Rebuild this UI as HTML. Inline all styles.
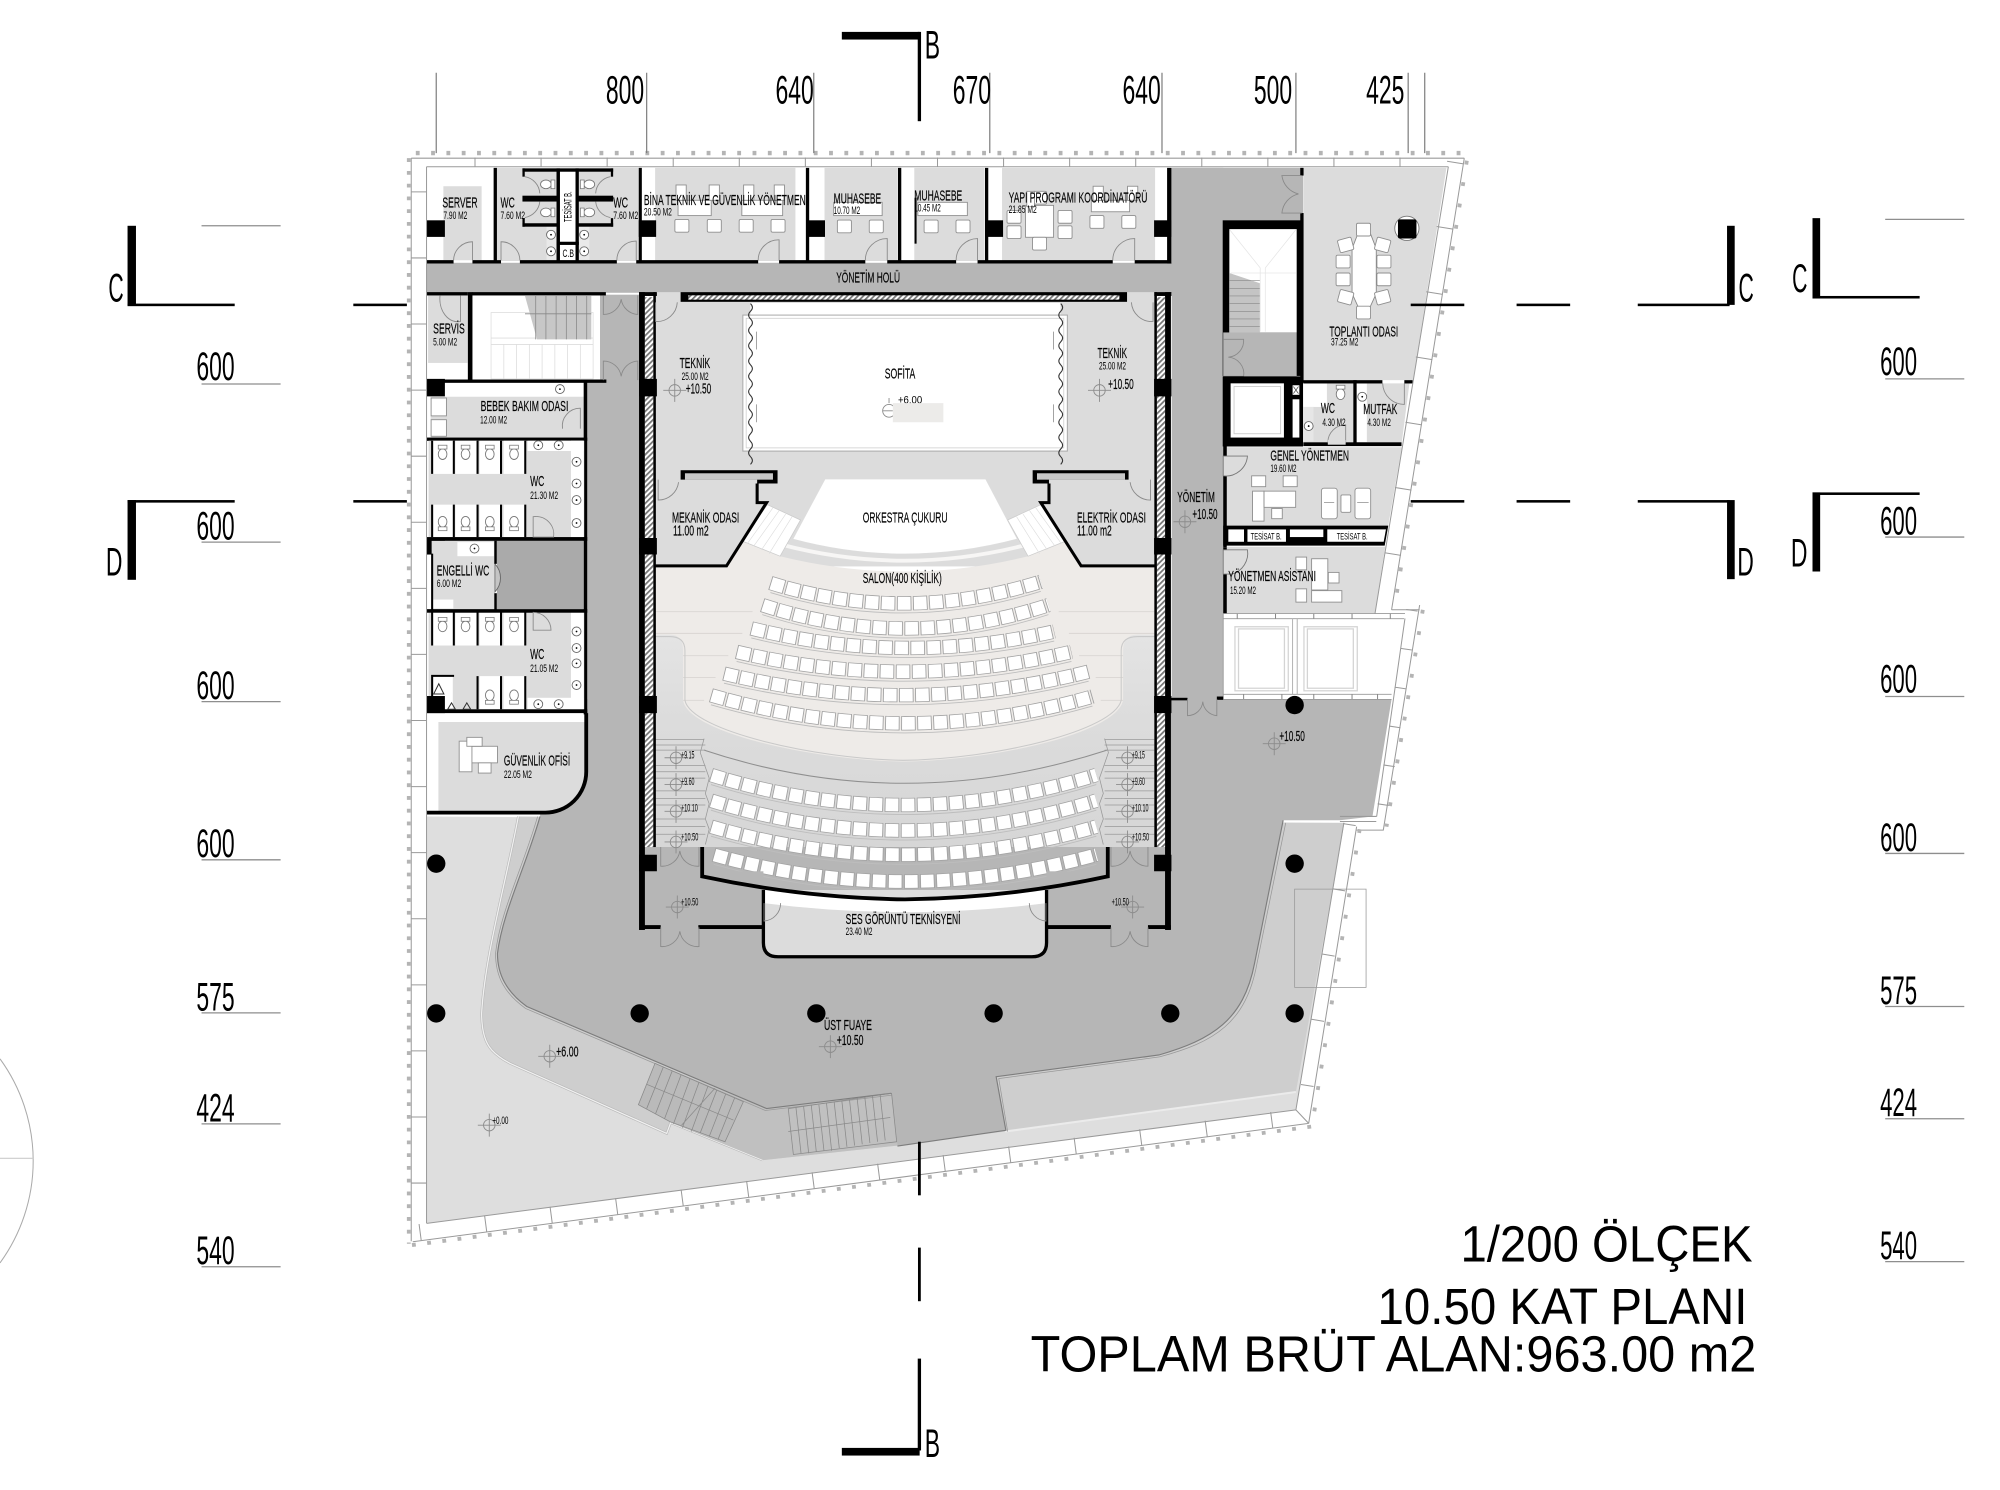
<!DOCTYPE html>
<html><head><meta charset="utf-8"><title>10.50 Kat Planı</title>
<style>
html,body{margin:0;padding:0;background:#fff;width:2000px;height:1490px;overflow:hidden}
svg{display:block}
text{font-family:"Liberation Sans",sans-serif;fill:#000}
.l{font-size:11.5px;stroke:#000;stroke-width:.12}
.s{font-size:9px}
.d{font-size:31px}
.t{font-size:40px}
.th{stroke:#8a8a8a;stroke-width:.7;fill:none}
.f{fill:#fff;stroke:#8f8f8f;stroke-width:.7}
.w{fill:#000}
</style></head><body>
<svg xmlns="http://www.w3.org/2000/svg" width="2000" height="1490" viewBox="0 0 1568 1168" preserveAspectRatio="none">
<defs>
<pattern id="h" width="3" height="3" patternUnits="userSpaceOnUse" patternTransform="rotate(45)"><rect width="3" height="3" fill="#fff"/><rect width="1.4" height="3" fill="#777"/></pattern>
<linearGradient id="gr" x1="0" y1="0" x2="0" y2="1"><stop offset="0" stop-color="#e4e4e4"/><stop offset=".4" stop-color="#dcdcdc"/><stop offset="1" stop-color="#d6d6d6"/></linearGradient>
<g id="m" fill="none" stroke="#8c8c8c" stroke-width=".7"><circle r="4.5"/><path d="M-9 0H9M0-9V9"/></g>
<g id="wt"><ellipse cx="0" cy="0" rx="3.4" ry="4.2" fill="#fff" stroke="#777" stroke-width=".7"/><rect x="-3.4" y="-7" width="6.8" height="3" fill="#fff" stroke="#777" stroke-width=".6"/></g>
<g id="sink"><circle r="3.5" fill="#fff" stroke="#666" stroke-width=".7"/><circle r=".7" fill="#000"/></g>
<g id="ch"><rect x="-5.5" y="-5" width="11" height="10" rx="1.2" class="f"/></g>
<g id="seats">
<path d="M604 457Q708 489.5 816 456"/>
<path d="M597.6 474.3Q710 511 822 474.3"/>
<path d="M589 492.6Q708 522 826.5 495"/>
<path d="M577.5 511Q708 542 840 511"/>
<path d="M567.6 528Q710 562.6 853.5 526.5"/>
<path d="M557.4 545Q708 588.5 856.5 546"/>
<path d="M557.4 607.5Q708 654.5 859.5 607.5"/>
<path d="M557.4 627.6Q708 674.4 859.5 627.6"/>
<path d="M557.4 648Q708 692 859.5 648"/>
<path d="M559.5 670Q708 712 859.5 670"/>
</g>
<path id="wave" d="M0 0q3 3 0 6t0 6t0 6t0 6t0 6t0 6t0 6t0 6t0 6t0 6t0 6t0 6t0 6t0 6t0 6t0 6t0 6t0 6t0 6t0 6t0 6" fill="none" stroke="#333" stroke-width=".8"/>
</defs>
<rect width="1568" height="1168" fill="#fff"/>

<!-- site circle -->
<path d="M0 830A136 136 0 0 1 0 990" fill="none" stroke="#aaa" stroke-width=".8"/>
<path d="M0 908H26" stroke="#ccc" stroke-width=".8"/>

<!-- terrace layers -->
<polygon points="334.4,640 1054,645 1016,870 334.6,959" fill="#dedede"/>
<path d="M406.4 640C397 690 380 750 377.6 794.4C377.6 808 380 817 385.5 823Q391 829 400 833.6L522.7 888.5L525.8 880L598 909.4L703 898L788 887L1016 856L1054 645H1006Z" fill="#cecece"/>
<path d="M406.4 640C397 690 380 750 377.6 794.4C377.6 808 380 817 385.5 823Q391 829 400 833.6L522.7 888.5L525.8 880L598 909.4" fill="none" stroke="#b8b8b8" stroke-width="2"/>
<path d="M406.4 640C397 690 380 750 377.6 794.4C377.6 808 380 817 385.5 823Q391 829 400 833.6L522.7 888.5L525.8 880L598 909.4" fill="none" stroke="#f0f0f0" stroke-width="1"/>
<path d="M788 887L1016 856" stroke="#ebebeb" stroke-width="1.6"/>
<path d="M1015 697h56v77h-56z" fill="none" stroke="#999" stroke-width=".6"/>

<!-- band + corridor -->
<polygon points="513.5,833.6 601,869 699,857 703.6,898 598.4,909.4 525.8,880 500.5,866" fill="#c0c0c0"/>
<path d="M460 548L918 548H1091L1076 640L1050.5 643H1006L983.6 755C975 800 950 815 908.6 827L781 844L788.6 886L703.6 898.4L698.6 857L601 869L413 789C398 778 390 765 390 747.4C394 715 412 680 423.4 640L425 600H460Z" fill="#b6b6b6"/>
<path d="M423.4 640C412 680 394 715 390 747.4C390 765 398 778 413 789L601 869L698.6 857M1006 643L983.6 755C975 800 950 815 908.6 827L781 844L788.6 886L703.6 898.4" fill="none" stroke="#7d7d7d" stroke-width=".9"/>
<path d="M421.5 640C410 680 392 715 388.5 747.4C388.5 766 396 779 412 790.5L600 870.5L699 858.5M1008 645L985.5 755C977 802 952 817 909 828.5L783 845.5L790 887" fill="none" stroke="#999" stroke-width=".6"/>
<!-- lower stairs -->
<g fill="none" stroke="#8a8a8a" stroke-width=".6">
<polygon points="513.5,833.6 500.5,866 525.3,879.3 568.4,895 582.8,863.6" fill="#bababa"/>
<path d="M520 836.5L507 869M527 839.5L514 873M534 842.5L521 877M541 845.5L528 881M548 848.5L535 884M555 851.5L542 887M562 854.5L549 888M569 857.5L556 891M576 860.5L563 893M507 850L575 878M560.6 853L534.4 882"/>
<polygon points="618,869 699,857 703,895 622,905"/>
<path d="M624 868l4 36M630 867l4 37M636 866l4 37M642 866l4 36M648 865l4 37M654 864l4 36M660 863l4 36M666 862l4 36M672 861l4 36M678 860l4 36M684 859l4 36M690 858l4 36M618 887L698 876"/>
</g>

<!-- main corridors -->
<rect x="460.4" y="298" width="41" height="345" fill="#b6b6b6"/>
<rect x="470.4" y="231" width="31" height="70" fill="#b6b6b6"/>
<rect x="334.4" y="206" width="585" height="23.5" fill="#b6b6b6"/>
<rect x="918.6" y="131.6" width="40.5" height="418" fill="#b6b6b6"/>
<rect x="918.6" y="131.6" width="103" height="41.2" fill="#b6b6b6"/>

<!-- top rooms -->
<g fill="#dcdcdc">
<rect x="347.6" y="146" width="30" height="58"/>
<rect x="389.6" y="131.6" width="111.5" height="73"/>
<rect x="513.6" y="131.6" width="110" height="73"/>
<rect x="646.4" y="131.6" width="57.2" height="73"/>
<rect x="716.8" y="131.6" width="54.8" height="73"/>
<rect x="785.6" y="131.6" width="120" height="73"/>
</g>
<!-- tesisat core -->
<g>
<rect x="439" y="134.6" width="12.2" height="69.3" fill="#fff"/>
<rect x="428.5" y="177.7" width="7.8" height="26" fill="#e9e9e9"/><rect x="453.8" y="177.7" width="8.2" height="26" fill="#e9e9e9"/>
<g class="w">
<rect x="409.6" y="132" width="71.1" height="2.6"/>
<rect x="409.6" y="153.4" width="26.7" height="4.6"/><rect x="453.3" y="153.4" width="27.4" height="4.6"/>
<rect x="409.6" y="175" width="27" height="2.7"/><rect x="452.8" y="175" width="27.9" height="2.7"/>
<rect x="409.6" y="132" width="1.8" height="6.5"/><rect x="478.9" y="132" width="1.8" height="6.5"/>
<rect x="409.6" y="171" width="1.8" height="6.7"/><rect x="478.9" y="171" width="1.8" height="6.7"/>
<rect x="436.3" y="132" width="2.7" height="74"/><rect x="451.2" y="132" width="2.6" height="74"/>
<rect x="436.3" y="189.5" width="17.5" height="2.5"/>
</g>
<use href="#wt" transform="translate(428,144.5) rotate(90)"/><use href="#wt" transform="translate(428,166.5) rotate(90)"/>
<use href="#wt" transform="translate(462,144.5) rotate(-90)"/><use href="#wt" transform="translate(462,166.5) rotate(-90)"/>
<use href="#sink" x="432" y="184"/><use href="#sink" x="432" y="197"/><use href="#sink" x="458" y="184"/><use href="#sink" x="458" y="197"/>
<path class="th" d="M411.5 138.5A14 14 0 0 1 423.2 151.6M411.5 170.5A14 14 0 0 0 423.2 158M478.5 138.5A14 14 0 0 0 467 151.6M478.5 170.5A14 14 0 0 1 467 158"/>
</g>
<!-- top room furniture -->
<rect x="531.6" y="157" width="26" height="12" class="f"/><rect x="581.6" y="157" width="32" height="12" class="f"/>
<use href="#ch" x="534.6" y="177"/><use href="#ch" x="560" y="177"/><use href="#ch" x="585" y="177"/><use href="#ch" x="610" y="177"/>
<rect x="653.6" y="158.6" width="38" height="10.4" class="f"/><use href="#ch" x="662" y="177.5"/><use href="#ch" x="687" y="177.5"/>
<rect x="719.6" y="158.6" width="38.8" height="10.4" class="f"/><use href="#ch" x="730" y="177.5"/><use href="#ch" x="755" y="177.5"/>
<rect x="804" y="161" width="22" height="25" class="f"/><use href="#ch" x="795" y="170"/><use href="#ch" x="795" y="182"/><use href="#ch" x="835" y="170"/><use href="#ch" x="835" y="182"/><use href="#ch" x="815" y="191"/><use href="#ch" x="815" y="155"/>
<rect x="855.6" y="157" width="30" height="9" class="f"/><use href="#ch" x="860" y="174"/><use href="#ch" x="885" y="174"/>
<rect x="805" y="150" width="6" height="12" class="f"/><rect x="857" y="146" width="8" height="11" class="f"/><rect x="884" y="146" width="8" height="11" class="f"/>
<rect x="530" y="145" width="8" height="12" class="f"/><rect x="556" y="145" width="8" height="12" class="f"/><rect x="583" y="145" width="8" height="12" class="f"/><rect x="607" y="145" width="8" height="12" class="f"/>
<!-- top walls -->
<g class="w">
<rect x="387" y="131.6" width="2.6" height="73"/><rect x="500.8" y="131.6" width="2.4" height="73"/><rect x="631.8" y="131.6" width="2.6" height="73"/><rect x="704" y="131.6" width="2.6" height="73"/><rect x="772.2" y="131.6" width="2.6" height="73"/><rect x="915" y="131.6" width="3.4" height="75"/>
<rect x="717" y="155" width="1.6" height="36"/>
<rect x="334.4" y="172.7" width="14.4" height="13"/><rect x="500.8" y="172.7" width="13.6" height="13"/><rect x="633.6" y="172.7" width="13.2" height="13"/><rect x="772.8" y="172.7" width="13.6" height="13"/><rect x="904.8" y="172.7" width="13.6" height="13"/>
<path d="M334.4 203.9H355.6V206.6H334.4ZM370.4 203.9H392.8V206.6H370.4ZM407.6 203.9H483.6V206.6H407.6ZM498.8 203.9H594.4V206.6H498.8ZM610.8 203.9H678.4V206.6H610.8ZM695.6 203.9H749.6V206.6H695.6ZM766.4 203.9H872.4V206.6H766.4ZM889.6 203.9H918V206.6H889.6Z"/>
</g>
<g class="th" fill="none">
<path d="M355.6 204A14.8 14.8 0 0 1 370.4 189.5V204M407.6 204A14.8 14.8 0 0 0 392.8 189.5V204M483.6 204A15 15 0 0 1 498.8 189V204M594.4 204A16 16 0 0 1 610.8 188V204M678.4 204A17 17 0 0 1 695.6 187V204M749.6 204A17 17 0 0 1 766.4 187V204M872.4 204A17 17 0 0 1 889.6 187V204"/>
</g>

<!-- left mid -->
<rect x="335.6" y="231.5" width="31" height="53" fill="#dcdcdc"/>
<g class="w">
<rect x="334.4" y="229" width="32.4" height="2.6"/><rect x="366.8" y="229" width="3.6" height="70"/><rect x="370" y="229" width="105" height="2.6"/>
<rect x="334.4" y="297.5" width="141" height="2.6"/>
<rect x="334.4" y="297" width="14.4" height="13.7"/>
</g>
<g fill="none" stroke="#ddd" stroke-width=".6"><rect x="385" y="245" width="80" height="52"/><path d="M385 265H465M385 270H465M395 270V297M405 270V297M415 270V297M425 270V297M435 270V297M445 270V297M455 270V297"/></g>
<polygon points="411.6,232 463.6,232 463.6,266 421,266" fill="#c7c7c7"/>
<path d="M420 232v34M428 232v34M436 232v34M444 232v34M452 232v34M460 232v34M411.6 246H463.6" stroke="#888" stroke-width=".6"/>
<path class="th" d="M345 231.5A14 18 0 0 0 361 252V231.5M473 231.5v15a14 14 0 0 0 14 -12a14 14 0 0 0 13 12v-15M473 298v-15a14 14 0 0 1 14 12a14 14 0 0 1 13 -12v15"/>

<!-- bebek -->
<rect x="337.6" y="311" width="120" height="32" fill="#dcdcdc"/>
<rect x="338" y="312" width="12" height="14" class="f"/><rect x="338" y="329" width="12" height="13" class="f"/>
<use href="#sink" x="439" y="305"/>
<path class="th" d="M441 336A14 14 0 0 1 455 320V336"/>
<g class="w"><rect x="334.4" y="343" width="126" height="2.6"/><rect x="457.6" y="298" width="2.8" height="262"/></g>

<!-- WC1 -->
<rect x="336" y="345.5" width="122" height="75.5" fill="#dcdcdc"/>
<rect x="413.6" y="345.5" width="44" height="8" fill="#fff"/><rect x="447.6" y="345.5" width="10" height="75.5" fill="#fff"/>
<g fill="#fff"><rect x="338.4" y="345.5" width="17" height="26"/><rect x="357" y="345.5" width="17" height="26"/><rect x="376" y="345.5" width="16.5" height="26"/><rect x="394.8" y="345.5" width="17" height="26"/>
<rect x="338.4" y="395.6" width="17" height="25.4"/><rect x="357" y="395.6" width="17" height="25.4"/><rect x="376" y="395.6" width="16.5" height="25.4"/><rect x="394.8" y="395.6" width="17" height="25.4"/></g>
<g class="w">
<path d="M338 345.5h1.6v26h-1.6zM355 345.5h1.6v26h-1.6zM373.6 345.5h1.6v26h-1.6zM392 345.5h1.6v26h-1.6zM411 345.5h1.6v26h-1.6z"/>
<path d="M338 395.6h1.6v25.4h-1.6zM355 395.6h1.6v25.4h-1.6zM373.6 395.6h1.6v25.4h-1.6zM392 395.6h1.6v25.4h-1.6zM411 395.6h1.6v25.4h-1.6z"/>
<rect x="334.4" y="421" width="126" height="3"/>
<rect x="334.4" y="421.7" width="14.4" height="13"/>
</g>
<g><use href="#wt" x="347" y="356"/><use href="#wt" x="365" y="356"/><use href="#wt" x="384" y="356"/><use href="#wt" x="403" y="356"/>
<use href="#wt" transform="translate(347,409) rotate(180)"/><use href="#wt" transform="translate(365,409) rotate(180)"/><use href="#wt" transform="translate(384,409) rotate(180)"/><use href="#wt" transform="translate(403,409) rotate(180)"/>
<use href="#sink" x="422" y="349"/><use href="#sink" x="438" y="349"/><use href="#sink" x="452" y="362"/><use href="#sink" x="452" y="379"/><use href="#sink" x="452" y="392"/><use href="#sink" x="452" y="410"/></g>
<path class="th" d="M418 405A14 14 0 0 1 434 421H418Z"/>

<!-- engelli -->
<rect x="338.4" y="424" width="49" height="53.5" fill="#dcdcdc"/>
<rect x="358.6" y="425" width="28.6" height="11" fill="#fff"/><use href="#sink" x="372" y="430"/>
<rect x="338.4" y="470" width="17" height="7" fill="#fff"/>
<rect x="389.6" y="424" width="68" height="53.5" fill="#aaa"/>
<path d="M388 442A16 16 0 0 1 388 464Z" fill="#c4c4c4" stroke="#666" stroke-width=".7"/>
<rect x="387.5" y="424" width="2" height="18" class="w"/><rect x="387.5" y="465" width="2" height="13" class="w"/>
<rect x="338" y="434" width="1.6" height="44" class="w"/>
<!-- WC2 -->
<rect x="336" y="480" width="122" height="76" fill="#dcdcdc"/>
<rect x="447.6" y="480" width="10" height="76" fill="#fff"/><rect x="413.6" y="547" width="44" height="9" fill="#fff"/>
<g fill="#fff"><rect x="338.4" y="480" width="17" height="26"/><rect x="357" y="480" width="17" height="26"/><rect x="376" y="480" width="16.5" height="26"/><rect x="394.8" y="480" width="17" height="26"/>
<rect x="376" y="530" width="16.5" height="26"/><rect x="394.8" y="530" width="17" height="26"/><rect x="338" y="530" width="17" height="26"/></g>
<g class="w">
<path d="M338 480h1.6v26h-1.6zM355 480h1.6v26h-1.6zM373.6 480h1.6v26h-1.6zM392 480h1.6v26h-1.6zM411 480h1.6v26h-1.6z"/>
<path d="M373.6 530h1.6v26h-1.6zM392 530h1.6v26h-1.6zM411 530h1.6v26h-1.6zM338 530h1.6v26h-1.6zM338 529h18v1.6h-18z"/>
<rect x="334.4" y="477.5" width="126" height="2.8"/>
<rect x="334.4" y="556" width="126" height="3"/>
<rect x="334.4" y="545.6" width="14.4" height="13.4"/>
</g>
<g><use href="#wt" x="347" y="491"/><use href="#wt" x="365" y="491"/><use href="#wt" x="384" y="491"/><use href="#wt" x="403" y="491"/>
<use href="#wt" transform="translate(384,545) rotate(180)"/><use href="#wt" transform="translate(403,545) rotate(180)"/>
<use href="#sink" x="452" y="495"/><use href="#sink" x="452" y="508"/><use href="#sink" x="452" y="520"/><use href="#sink" x="452" y="537"/><use href="#sink" x="422" y="552"/><use href="#sink" x="438" y="552"/></g>
<path class="th" d="M418 480A14 14 0 0 1 432 494H418Z"/>
<path d="M344 536l4 8h-8zM354 551l3 5h-6zM366 551l3 5h-6z" fill="none" stroke="#333" stroke-width=".8"/>

<!-- guvenlik -->
<path d="M343.7 566H459V605A32 32 0 0 1 427 637H343.7Z" fill="#dcdcdc"/>
<path d="M459.6 559V605A32 32 0 0 1 427 637H334.4" fill="none" stroke="#000" stroke-width="3"/>
<rect x="360" y="581" width="10" height="24" class="f"/><rect x="370" y="585" width="20" height="13" class="f"/><rect x="375" y="598" width="10" height="8" class="f"/><rect x="366" y="578" width="12" height="7" class="f"/>

<!-- stage & auditorium -->
<rect x="513.6" y="229" width="392" height="215" fill="#dcdcdc"/>
<rect x="588.4" y="237.5" width="243" height="10" fill="#fff"/>
<rect x="582.4" y="247" width="254.4" height="106.6" fill="#fff" stroke="#aaa" stroke-width=".8"/>
<rect x="585" y="249.5" width="249" height="101.6" fill="#fff" stroke="#ccc" stroke-width=".6"/>
<use href="#wave" x="588.4" y="238"/><use href="#wave" x="831.6" y="238"/>
<path d="M593 260v14M593 317v14M826 260v14M826 317v14" stroke="#888" stroke-width=".6"/>
<g class="th"><circle cx="697" cy="322" r="5"/><path d="M692 322h8M697 312v4"/></g>
<rect x="533.6" y="229" width="350" height="7.6" class="w"/>
<rect x="539.6" y="231.5" width="338" height="3.4" fill="url(#h)"/>
<rect x="533.6" y="368.6" width="76" height="10.4" class="w"/><rect x="537" y="371" width="69" height="5" fill="#c8c8c8"/>
<rect x="809.6" y="368.6" width="75.2" height="10.4" class="w"/><rect x="813" y="371" width="69" height="5" fill="#c8c8c8"/>
<!-- salon -->
<path d="M513.6 443.6H569.6L581 424L611.6 436Q709 460 806 436L836 424L847.6 443.6H905.6V664H513.6Z" fill="#eeebe8"/>
<!-- pit -->
<path d="M646.8 375.5H772.8L797.6 422.6Q709 446 621.6 422.6Z" fill="#fff" stroke="#ddd" stroke-width=".6"/>
<path d="M613 427Q709 452 805 427" fill="none" stroke="#f7f6f5" stroke-width="3"/>
<!-- side stairs -->
<polygon points="601.6,395.6 627.6,407.6 611.6,436 581.6,424" fill="#fff" stroke="#ccc" stroke-width=".6"/>
<polygon points="816,395.6 790,407.6 806,436 836,424" fill="#fff" stroke="#ccc" stroke-width=".6"/>
<path d="M606 398L586 426M611 400L591 428M616 403L597 431M621 405L603 434M812 398L832 426M807 400L827 428M802 403L821 431M797 405L815 434" stroke="#ddd" stroke-width=".5"/>
<path d="M513.6 376H593.6V394H601L569.6 443.6H513.6Z" fill="#dcdcdc"/>
<path d="M905.6 376H822.4V394H816L847.6 443.6H905.6Z" fill="#dcdcdc"/>
<path d="M593.6 379V394H601L569.6 443.6H513.6M822.4 379V394H816L847.6 443.6H905.6" fill="none" stroke="#000" stroke-width="2.4"/>
<path class="th" d="M516 376V392A16 16 0 0 0 532 378M902 376V392A16 16 0 0 1 886 378"/>
<!-- salon lines -->
<path d="M514 479.5H590M514 496.5H582M535 514H571M535 531H561M535 549H552M905 479.5H830M905 496.5H838M882 514H846M882 531H859M882 549H863" stroke="#d9d6d2" stroke-width=".7"/>
<!-- lower gray -->
<path d="M513.6 497.5H525Q535.5 497.5 535.5 510V549C540 575 640 596 708 597C780 596 875 575 880.5 549V510Q880.5 497.5 892 497.5H905.6V664H513.6Z" fill="url(#gr)"/>
<path d="M513.6 499H525Q537 499 537 510V549C542 573 640 595 708 596C780 595 873 573 879 549V510Q879 499 892 499H905.6" fill="none" stroke="#c9c9c9" stroke-width=".8"/>
<path d="M552 588Q708 640 868 588" fill="none" stroke="#8f8f8f" stroke-width=".8"/>
<!-- side step lines -->
<path d="M514 579.6H552M514 584H553M514 588H553M514 600H553M514 605H553M514 610H553M514 620H553M514 626H553M514 631H553M514 642H553M514 648H553M514 654H553M866 579.6H905M866 584H905M866 588H905M866 600H905M866 605H905M866 610H905M866 620H905M866 626H905M866 631H905M866 642H905M866 648H905M866 654H905" stroke="#999" stroke-width=".6"/>
<path d="M552 579L549 590L556 610L553 622L556 630L553 642L556 650L553 662M866 579L869 590L862 610L865 622L862 630L865 642L862 650L865 662" fill="none" stroke="#999" stroke-width=".6"/>
<!-- seats -->
<use href="#seats" fill="none" stroke="#bdbdbd" stroke-width=".7" transform="translate(0,7.5)"/>
<use href="#seats" fill="none" stroke="#a2a2a2" stroke-width="11.2" stroke-dasharray="11.4 1.2"/>
<use href="#seats" fill="none" stroke="#fff" stroke-width="10" stroke-dasharray="10 2.6" stroke-dashoffset="-.7"/>

<!-- booth side rooms -->
<rect x="505.5" y="683" width="93" height="43.5" fill="#b6b6b6"/>
<rect x="820.5" y="683" width="93" height="43.5" fill="#b6b6b6"/>
<path d="M505 664H550.5V687H505ZM868.5 664H914V687H868.5Z" fill="#b6b6b6"/>
<path d="M598.5 697.7H820.5V739Q820.5 750 809 750H610Q598.5 750 598.5 739Z" fill="#dcdcdc"/>
<path d="M598.5 697.7Q709 712 820.5 697.7V708Q709 722 598.5 708Z" fill="#fff"/>
<path d="M598.5 697.7V739Q598.5 750 610 750H809Q820.5 750 820.5 739V697.7" fill="none" stroke="#000" stroke-width="2.6"/>
<path d="M550.5 664V687Q630 704 709.5 705Q790 704 868.5 687V664" fill="none" stroke="#000" stroke-width="3"/>
<path class="th" d="M599 708V722A14 14 0 0 0 612 708M820 708V722A14 14 0 0 1 807 708"/>
<path d="M505 726.7H598.5M820.5 726.7H918" stroke="#000" stroke-width="3"/>
<rect x="518" y="725" width="29.5" height="4" fill="#b6b6b6"/><rect x="871" y="725" width="29" height="4" fill="#b6b6b6"/>
<path class="th" d="M518 664v15a14 14 0 0 0 15 -12a14 14 0 0 0 15 12v-15M518 727v15a14 14 0 0 0 15 -12a14 14 0 0 0 15 12v-15M871 664v15a14 14 0 0 0 15 -12a14 14 0 0 0 14 12v-15M871 727v15a14 14 0 0 0 15 -12a14 14 0 0 0 14 12v-15"/>

<!-- auditorium walls -->
<g>
<rect x="501" y="229" width="4.6" height="500" class="w"/>
<rect x="505.6" y="233" width="6.6" height="431" fill="url(#h)"/>
<rect x="512.2" y="229" width="2" height="435" class="w"/>
<rect x="913.4" y="229" width="4.6" height="500" class="w"/>
<rect x="907" y="233" width="6.4" height="431" fill="url(#h)"/>
<rect x="905" y="229" width="2" height="435" class="w"/>
<path d="M501 297h14v13.7h-14zM501 421.7h14v13h-14zM501 545.6h14v13.4h-14zM501 670h14v13h-14zM904.8 297h13.6v13.7h-13.6zM904.8 421.7h13.6v13h-13.6zM904.8 545.6h13.6v13.4h-13.6zM904.8 670h13.6v13h-13.6z"/>
<rect x="501" y="229" width="14" height="3"/><rect x="905" y="229" width="13.4" height="3"/>
</g>
<path class="th" d="M514 237V252A16 16 0 0 0 531 237M904 237V252A16 16 0 0 1 887 237"/>

<!-- right block -->
<polygon points="1021.8,131.6 1134,131.6 1108,298 1021.8,298" fill="#dcdcdc"/>
<g class="w"><rect x="1019.4" y="131.6" width="2.6" height="6"/><rect x="1019.4" y="167" width="2.6" height="133"/></g>
<path class="th" d="M1020.5 137.6H1005A17 17 0 0 0 1018 152A17 17 0 0 0 1005 167H1020.5" fill="#b6b6b6"/>
<!-- meeting table -->
<path d="M1060 195L1065 182H1074L1079 195V230L1074 241H1065L1060 230Z" fill="#fff" stroke="#888" stroke-width=".7"/>
<g><use href="#ch" x="1069" y="180"/><use href="#ch" x="1069" y="245"/>
<use href="#ch" transform="translate(1055,192) rotate(-15)"/><use href="#ch" x="1053" y="205"/><use href="#ch" x="1053" y="219"/><use href="#ch" transform="translate(1055,233) rotate(15)"/>
<use href="#ch" transform="translate(1084,192) rotate(15)"/><use href="#ch" x="1085" y="205"/><use href="#ch" x="1085" y="219"/><use href="#ch" transform="translate(1084,233) rotate(-15)"/></g>
<circle cx="1103" cy="179" r="9.5" fill="#fff" stroke="#777" stroke-width=".7"/><rect x="1096" y="172" width="14.5" height="15" rx="1.5" class="w"/>
<!-- stair box -->
<rect x="958.6" y="172.7" width="63" height="122" class="w"/>
<rect x="963.8" y="179.6" width="52.8" height="81" fill="#fff"/>
<rect x="959" y="260.6" width="57.6" height="34.4" fill="#b6b6b6"/>
<path d="M963.8 214L987.8 222V260.6H963.8Z" fill="#c4c4c4"/>
<path d="M964 220H988M964 226H988M964 232H988M964 238H988M964 244H988M964 250H988M964 256H988" stroke="#888" stroke-width=".5"/>
<path d="M964 180L988 210M1016 180L992 210M988 210V260M992 210V260M965 214H1016" stroke="#e6e6e6" stroke-width=".6" fill="none"/>
<path class="th" d="M959 266H975A13 13 0 0 1 963 280A13 13 0 0 1 975 295H959"/>
<!-- elevator -->
<rect x="958.6" y="295" width="63" height="55" class="w"/>
<rect x="964.8" y="300.5" width="41.8" height="42.5" fill="#fff"/><rect x="967.5" y="303" width="36.5" height="37" fill="none" stroke="#ccc" stroke-width=".7"/>
<rect x="1013.4" y="313" width="5.3" height="30" fill="#fff"/><rect x="1013.4" y="302" width="5.3" height="7.5" fill="#fff"/>
<path d="M1014 303l4 5.5M1018 303l-4 5.5" stroke="#333" stroke-width=".5"/>
<!-- wc mutfak -->
<rect x="1021.8" y="300.5" width="39.2" height="46" fill="#dcdcdc"/><rect x="1021.8" y="300.5" width="18.5" height="18.5" fill="#fff"/><rect x="1021.8" y="319" width="8" height="27" fill="#e6e6e6"/>
<path d="M1063.6 300.5H1105L1099 346.6H1063.6Z" fill="#dcdcdc"/><rect x="1063.6" y="300.5" width="8" height="46" fill="#fff"/>
<use href="#sink" x="1026" y="334"/><use href="#wt" x="1051" y="309"/><use href="#sink" x="1068" y="311"/>
<g class="w"><rect x="1021.8" y="298" width="62" height="2.6"/><rect x="1101" y="298" width="6.5" height="2.6"/><rect x="1061" y="298" width="2.6" height="51"/><rect x="1021.8" y="346.7" width="77" height="3"/></g>
<path class="th" d="M1084 300.5A17 17 0 0 0 1101 317V300.5M1041 346.7A14 14 0 0 1 1055 333V346.7"/>
<rect x="1041" y="345" width="14" height="3.6" fill="#dcdcdc"/>
<!-- genel -->
<polygon points="961.7,350.6 1099,350.6 1088.4,412 961.7,412" fill="#dcdcdc"/>
<rect x="959" y="349" width="2.8" height="80" class="w"/>
<path d="M959 357.5H978A17 17 0 0 1 959 373Z" fill="#dcdcdc" stroke="#777" stroke-width=".7"/>
<rect x="981.3" y="373" width="11" height="8.5" class="f"/><rect x="1006" y="373" width="11" height="8.5" class="f"/><rect x="982" y="385" width="9" height="23.5" class="f"/><rect x="991" y="385" width="24.8" height="12.7" class="f"/><rect x="997" y="398.6" width="8.3" height="8" class="f"/>
<rect x="1036" y="382.7" width="12.4" height="24" rx="2" class="f"/><path d="M1038 394H1046" stroke="#8f8f8f" stroke-width=".6" fill="none"/><rect x="1051.3" y="388" width="7.7" height="13.6" rx="1" class="f"/><rect x="1062.3" y="382.7" width="12.3" height="24" rx="2" class="f"/><path d="M1064 394H1073" stroke="#8f8f8f" stroke-width=".6"/>
<!-- tesisat band -->
<polygon points="959,412 1088.4,412 1085.6,427.7 959,427.7" class="w"/>
<rect x="963" y="415" width="12.3" height="9.7" fill="#fff"/><rect x="978" y="415" width="30.2" height="9.7" fill="#fff"/><rect x="1011.3" y="415" width="26.2" height="6" fill="#fff"/><polygon points="1040.6,415 1086.6,415 1084.8,424.7 1040.6,424.7" fill="#fff"/>
<!-- asistan -->
<polygon points="961.7,428.6 1086,428.6 1078,480.5 961.7,480.5" fill="#dcdcdc"/>
<rect x="959" y="429" width="2.8" height="52" class="w"/>
<path d="M959 431H978A17 17 0 0 1 966 450H959Z" fill="#dcdcdc" stroke="#777" stroke-width=".7"/>
<rect x="1016" y="436.7" width="8.4" height="10" class="f"/><rect x="1028.3" y="438" width="12.7" height="24.5" class="f"/><rect x="1041.4" y="448.7" width="8.4" height="8.3" class="f"/><rect x="1016" y="461.6" width="8.4" height="10.4" class="f"/><rect x="1028.3" y="463" width="23.7" height="9" class="f"/>
<!-- elevator lobby -->
<rect x="959" y="481" width="143" height="67" fill="#fff"/>
<polygon points="1102,481 1113,481 1091,548 1091,546" fill="#fff"/>
<path d="M959 481H1101.5M959 485H1100.8M959 544.3H1091M959 548.3H1091M959 481V548" fill="none" stroke="#999" stroke-width=".7"/>
<path d="M970 481v4M1000 481v4M1030 481v4M1060 481v4M1090 481v4M975 544v4M1005 544v4M1030 544v4M1060 544v4M1080 544v4" stroke="#888" stroke-width=".8"/>
<g fill="none" stroke="#d4d4d4" stroke-width="1"><rect x="968.2" y="491.3" width="41.8" height="50.2"/><rect x="971" y="493" width="36" height="46.5"/><rect x="1022.3" y="491.3" width="41.8" height="50.2"/><rect x="1025" y="493" width="36" height="46.5"/></g>
<path d="M1013.4 485V544M1017 485V544" stroke="#aaa" stroke-width=".7"/>
<rect x="918" y="547" width="13" height="2" class="w"/><rect x="954" y="546" width="5" height="2.6" class="w"/>
<path class="th" d="M931 548v13a12 12 0 0 0 12 -11a12 12 0 0 0 11 11v-13"/>

<!-- columns -->
<g class="w">
<circle cx="342" cy="677" r="7.2"/><circle cx="342" cy="794.4" r="7.2"/><circle cx="501.5" cy="794.4" r="7.2"/><circle cx="640" cy="794.4" r="7.2"/><circle cx="779" cy="794.4" r="7.2"/><circle cx="917.5" cy="794.4" r="7.2"/><circle cx="1015" cy="677" r="7.2"/><circle cx="1015" cy="794.4" r="7.2"/><circle cx="1015" cy="552.7" r="7.2"/>
</g>

<!-- facade -->
<g fill="none" stroke="#9a9a9a" stroke-width=".8">
<path d="M322.4 124H1148M334.4 130.7H1135.5"/>
<path d="M322.4 124V973M334.4 130.7V959"/>
<path d="M1148 124L1091 478M1135.5 130.7L1078 481"/>
<path d="M1113 474.3L1084.5 650.7H1063.6M1101.5 484.8L1079.3 640M1091 478H1113"/>
<path d="M1050.5 640H1079.3M1050.5 644H1079"/>
<path d="M1063.6 648L1026 880.6M1053.6 645L1016 870"/>
<path d="M323.6 973.4L1026 880.6M334.6 959L1016 870M1016 870L1026 880.6"/>
</g>
<g fill="none" stroke="#9a9a9a">
<path d="M372 127H1148" stroke-width="7" stroke-dasharray=".8 51"/>
<path d="M328.4 150V959" stroke-width="12" stroke-dasharray=".8 51"/>
<path d="M1141 127L1085 478" stroke-width="13" stroke-dasharray=".8 51"/>
<path d="M1107 478L1082 648" stroke-width="9" stroke-dasharray=".8 30"/>
<path d="M1058 646L1021 875" stroke-width="10" stroke-dasharray=".8 51"/>
<path d="M329 966L1021 875" stroke-width="13" stroke-dasharray=".8 51"/>
</g>
<g fill="none" stroke="#b4b4b4">
<path d="M326 120H1145" stroke-width="3.4" stroke-dasharray="3 9"/>
<path d="M320.5 124V975" stroke-width="3" stroke-dasharray="3 7"/>
<path d="M1150 126L1093 478" stroke-width="3" stroke-dasharray="3 14"/>
<path d="M1115.5 478L1087 648" stroke-width="3" stroke-dasharray="3 14"/>
<path d="M1066 650L1029 880" stroke-width="3" stroke-dasharray="3 14"/>
<path d="M323 976L1029 883" stroke-width="3" stroke-dasharray="3 9"/>
</g>

<!-- top grid lines -->
<path d="M342 57V120M507 57V120M638 57V120M776 57V120M911 57V120M1016 57V120M1104 57V120M1117 57V120" stroke="#777" stroke-width=".9"/>
<g class="d">
<text x="475" y="81" textLength="30" lengthAdjust="spacingAndGlyphs">800</text>
<text x="608" y="81" textLength="30" lengthAdjust="spacingAndGlyphs">640</text>
<text x="747" y="81" textLength="30" lengthAdjust="spacingAndGlyphs">670</text>
<text x="880" y="81" textLength="30" lengthAdjust="spacingAndGlyphs">640</text>
<text x="983" y="81" textLength="30" lengthAdjust="spacingAndGlyphs">500</text>
<text x="1071" y="81" textLength="30" lengthAdjust="spacingAndGlyphs">425</text>
<text x="154" y="298" textLength="30" lengthAdjust="spacingAndGlyphs">600</text>
<text x="154" y="423" textLength="30" lengthAdjust="spacingAndGlyphs">600</text>
<text x="154" y="548" textLength="30" lengthAdjust="spacingAndGlyphs">600</text>
<text x="154" y="672" textLength="30" lengthAdjust="spacingAndGlyphs">600</text>
<text x="154" y="792" textLength="30" lengthAdjust="spacingAndGlyphs">575</text>
<text x="154" y="879" textLength="30" lengthAdjust="spacingAndGlyphs">424</text>
<text x="154" y="991" textLength="30" lengthAdjust="spacingAndGlyphs">540</text>
<text x="1474" y="294" textLength="29" lengthAdjust="spacingAndGlyphs">600</text>
<text x="1474" y="419" textLength="29" lengthAdjust="spacingAndGlyphs">600</text>
<text x="1474" y="543" textLength="29" lengthAdjust="spacingAndGlyphs">600</text>
<text x="1474" y="667" textLength="29" lengthAdjust="spacingAndGlyphs">600</text>
<text x="1474" y="787" textLength="29" lengthAdjust="spacingAndGlyphs">575</text>
<text x="1474" y="875" textLength="29" lengthAdjust="spacingAndGlyphs">424</text>
<text x="1474" y="987" textLength="29" lengthAdjust="spacingAndGlyphs">540</text>
<text x="85" y="236.5" textLength="12" lengthAdjust="spacingAndGlyphs">C</text>
<text x="83" y="451" textLength="13" lengthAdjust="spacingAndGlyphs">D</text>
<text x="1363" y="236.5" textLength="12" lengthAdjust="spacingAndGlyphs">C</text>
<text x="1362" y="451" textLength="13" lengthAdjust="spacingAndGlyphs">D</text>
<text x="1405" y="229" textLength="12" lengthAdjust="spacingAndGlyphs">C</text>
<text x="1404" y="444" textLength="13" lengthAdjust="spacingAndGlyphs">D</text>
<text x="725" y="46" textLength="12" lengthAdjust="spacingAndGlyphs">B</text>
<text x="725" y="1142" textLength="12" lengthAdjust="spacingAndGlyphs">B</text>
</g>
<path d="M158 177H220M158 301H220M158 425H220M158 550H220M158 674H220M158 794H220M158 881H220M158 993H220M1478 172H1540M1478 297H1540M1478 421H1540M1478 546H1540M1478 669H1540M1478 789H1540M1478 877H1540M1478 989H1540" stroke="#8e8e8e" stroke-width="1"/>

<!-- section marks -->
<g class="w">
<rect x="100" y="177" width="6.6" height="62.5"/><rect x="100" y="238" width="84" height="2"/>
<rect x="277" y="238" width="42" height="2"/>
<rect x="100" y="392" width="6.6" height="62.5"/><rect x="100" y="392" width="84" height="2"/>
<rect x="277" y="392" width="42" height="2"/>
<rect x="1106" y="238" width="42" height="2"/><rect x="1189" y="238" width="42" height="2"/><rect x="1284" y="238" width="72" height="2"/><rect x="1354" y="177" width="6" height="62"/>
<rect x="1106" y="392" width="42" height="2"/><rect x="1189" y="392" width="42" height="2"/><rect x="1284" y="392" width="72" height="2"/><rect x="1354" y="392" width="6" height="62"/>
<rect x="1421" y="171" width="6" height="63"/><rect x="1421" y="232" width="84" height="2"/>
<rect x="1421" y="386" width="6" height="62"/><rect x="1421" y="386" width="84" height="2"/>
<rect x="660" y="25" width="61" height="6"/><rect x="719.5" y="25" width="2.6" height="70"/>
<rect x="660" y="1135" width="61" height="6"/><rect x="719.5" y="1065" width="2.6" height="72"/>
<rect x="719.7" y="895" width="2.2" height="42"/><rect x="719.7" y="978" width="2.2" height="42"/>
</g>

<!-- markers -->
<use href="#m" x="529" y="306"/><use href="#m" x="862" y="306"/><use href="#m" x="929" y="409"/>
<use href="#m" x="530" y="594"/><use href="#m" x="530" y="615"/><use href="#m" x="530" y="636"/><use href="#m" x="530" y="660"/>
<use href="#m" x="884" y="594"/><use href="#m" x="884" y="615"/><use href="#m" x="884" y="636"/><use href="#m" x="884" y="660"/>
<use href="#m" x="531" y="711"/><use href="#m" x="888" y="711"/>
<use href="#m" x="651" y="820.5"/><use href="#m" x="431" y="828"/><use href="#m" x="383.6" y="882"/><use href="#m" x="999" y="583"/>

<!-- labels -->
<g class="l">
<text x="346.8" y="162.5" textLength="27.6" lengthAdjust="spacingAndGlyphs">SERVER</text>
<text x="392.4" y="162.5" textLength="11.2" lengthAdjust="spacingAndGlyphs">WC</text>
<text x="480.8" y="162.5" textLength="11.6" lengthAdjust="spacingAndGlyphs">WC</text>
<text x="504.8" y="160.7" textLength="128.8" lengthAdjust="spacingAndGlyphs">BİNA TEKNİK VE GÜVENLİK YÖNETMENİ</text>
<text x="653.6" y="159.5" textLength="37.2" lengthAdjust="spacingAndGlyphs">MUHASEBE</text>
<text x="716.8" y="157.1" textLength="37.6" lengthAdjust="spacingAndGlyphs">MUHASEBE</text>
<text x="790.8" y="158.6" textLength="108.8" lengthAdjust="spacingAndGlyphs">YAPI PROGRAMI KOORDİNATÖRÜ</text>
<text x="655.6" y="221.6" textLength="50" lengthAdjust="spacingAndGlyphs">YÖNETİM HOLÜ</text>
<text x="339.6" y="261.5" textLength="24.8" lengthAdjust="spacingAndGlyphs">SERVİS</text>
<text x="532.8" y="288.5" textLength="24" lengthAdjust="spacingAndGlyphs">TEKNİK</text>
<text x="860.4" y="280.7" textLength="23.2" lengthAdjust="spacingAndGlyphs">TEKNİK</text>
<text x="537.6" y="308.6" textLength="20" lengthAdjust="spacingAndGlyphs">+10.50</text>
<text x="868.8" y="305" textLength="20" lengthAdjust="spacingAndGlyphs">+10.50</text>
<text x="693.6" y="296.6" textLength="24" lengthAdjust="spacingAndGlyphs">SOFİTA</text>
<text x="376.8" y="322" textLength="68.8" lengthAdjust="spacingAndGlyphs">BEBEK BAKIM  ODASI</text>
<text x="415.6" y="381" textLength="11.2" lengthAdjust="spacingAndGlyphs">WC</text>
<text x="342.4" y="451" textLength="41.2" lengthAdjust="spacingAndGlyphs">ENGELLİ WC</text>
<text x="415.6" y="516.5" textLength="11.2" lengthAdjust="spacingAndGlyphs">WC</text>
<text x="395" y="600" textLength="52" lengthAdjust="spacingAndGlyphs">GÜVENLİK OFİSİ</text>
<text x="526.8" y="409.7" textLength="52.8" lengthAdjust="spacingAndGlyphs">MEKANİK ODASI</text>
<text x="527.6" y="419.6" textLength="28" lengthAdjust="spacingAndGlyphs">11.00 m2</text>
<text x="844.4" y="409.7" textLength="54" lengthAdjust="spacingAndGlyphs">ELEKTRİK ODASI</text>
<text x="844.4" y="419.6" textLength="27.2" lengthAdjust="spacingAndGlyphs">11.00 m2</text>
<text x="676.4" y="409.7" textLength="66.4" lengthAdjust="spacingAndGlyphs">ORKESTRA ÇUKURU</text>
<text x="676.4" y="457" textLength="62" lengthAdjust="spacingAndGlyphs">SALON(400 KİŞİLİK)</text>
<text x="1042.2" y="263.6" textLength="54" lengthAdjust="spacingAndGlyphs">TOPLANTI ODASI</text>
<text x="1035.6" y="323.6" textLength="11" lengthAdjust="spacingAndGlyphs">WC</text>
<text x="1068.8" y="324.5" textLength="26.7" lengthAdjust="spacingAndGlyphs">MUTFAK</text>
<text x="996" y="361" textLength="61.6" lengthAdjust="spacingAndGlyphs">GENEL YÖNETMEN</text>
<text x="963" y="455.6" textLength="68.7" lengthAdjust="spacingAndGlyphs">YÖNETMEN ASİSTANI</text>
<text x="923" y="393.5" textLength="29.5" lengthAdjust="spacingAndGlyphs">YÖNETİM</text>
<text x="934.8" y="407" textLength="19.8" lengthAdjust="spacingAndGlyphs">+10.50</text>
<text x="663" y="724.3" textLength="90" lengthAdjust="spacingAndGlyphs">SES GÖRÜNTÜ TEKNİSYENİ</text>
<text x="646" y="807.5" textLength="37.6" lengthAdjust="spacingAndGlyphs">ÜST FUAYE</text>
<text x="656" y="819" textLength="21" lengthAdjust="spacingAndGlyphs">+10.50</text>
<text x="436" y="828" textLength="17.6" lengthAdjust="spacingAndGlyphs">+6.00</text>
<text x="1003" y="581" textLength="20" lengthAdjust="spacingAndGlyphs">+10.50</text>
</g>
<g class="s">
<text x="347.6" y="171.5" textLength="18.8" lengthAdjust="spacingAndGlyphs">7.90 M2</text>
<text x="392.4" y="171.5" textLength="19.2" lengthAdjust="spacingAndGlyphs">7.60 M2</text>
<text x="480.8" y="171.5" textLength="19.6" lengthAdjust="spacingAndGlyphs">7.60 M2</text>
<text x="504.8" y="169" textLength="22" lengthAdjust="spacingAndGlyphs">20.50 M2</text>
<text x="653.6" y="167.6" textLength="20.8" lengthAdjust="spacingAndGlyphs">10.70 M2</text>
<text x="716.8" y="166" textLength="20.8" lengthAdjust="spacingAndGlyphs">10.45 M2</text>
<text x="790.8" y="167" textLength="22" lengthAdjust="spacingAndGlyphs">21.85 M2</text>
<text x="339.6" y="271" textLength="18.8" lengthAdjust="spacingAndGlyphs">5.00 M2</text>
<text x="534.4" y="298" textLength="21.2" lengthAdjust="spacingAndGlyphs">25.00 M2</text>
<text x="861.6" y="289.7" textLength="21.2" lengthAdjust="spacingAndGlyphs">25.00 M2</text>
<text x="376.4" y="332" textLength="21.2" lengthAdjust="spacingAndGlyphs">12.00 M2</text>
<text x="415.6" y="391" textLength="22" lengthAdjust="spacingAndGlyphs">21.30 M2</text>
<text x="342.4" y="460" textLength="19.2" lengthAdjust="spacingAndGlyphs">6.00 M2</text>
<text x="415.6" y="526.7" textLength="22" lengthAdjust="spacingAndGlyphs">21.05 M2</text>
<text x="395" y="610" textLength="22" lengthAdjust="spacingAndGlyphs">22.05 M2</text>
<text x="1043.5" y="271" textLength="21.5" lengthAdjust="spacingAndGlyphs">37.25 M2</text>
<text x="1036.7" y="334" textLength="18.3" lengthAdjust="spacingAndGlyphs">4.30 M2</text>
<text x="1072" y="334" textLength="18.5" lengthAdjust="spacingAndGlyphs">4.30 M2</text>
<text x="996" y="370" textLength="20.5" lengthAdjust="spacingAndGlyphs">19.60 M2</text>
<text x="964.3" y="465.5" textLength="20.4" lengthAdjust="spacingAndGlyphs">15.20 M2</text>
<text x="663" y="733" textLength="21" lengthAdjust="spacingAndGlyphs">23.40 M2</text>
<text x="980.5" y="423" textLength="24.3" lengthAdjust="spacingAndGlyphs" font-size="7">TESİSAT B.</text>
<text x="1048" y="423" textLength="24.2" lengthAdjust="spacingAndGlyphs" font-size="7">TESİSAT B.</text>
<text x="441" y="201.5" textLength="9" lengthAdjust="spacingAndGlyphs">C.B</text>
<text transform="translate(448,174) rotate(-90)" textLength="24" lengthAdjust="spacingAndGlyphs">TESİSAT B.</text>
<text x="534" y="594.5" textLength="10.5" lengthAdjust="spacingAndGlyphs">+9.15</text>
<text x="534" y="615.4" textLength="10.5" lengthAdjust="spacingAndGlyphs">+9.60</text>
<text x="534" y="636.3" textLength="13" lengthAdjust="spacingAndGlyphs">+10.10</text>
<text x="534" y="659" textLength="13.5" lengthAdjust="spacingAndGlyphs">+10.50</text>
<text x="887.4" y="594.5" textLength="10.2" lengthAdjust="spacingAndGlyphs">+9.15</text>
<text x="887.4" y="615.4" textLength="10.2" lengthAdjust="spacingAndGlyphs">+9.60</text>
<text x="887.4" y="636.3" textLength="13" lengthAdjust="spacingAndGlyphs">+10.10</text>
<text x="887.4" y="659" textLength="13.5" lengthAdjust="spacingAndGlyphs">+10.50</text>
<text x="534" y="710" textLength="13.5" lengthAdjust="spacingAndGlyphs">+10.50</text>
<text x="871.5" y="710" textLength="13.5" lengthAdjust="spacingAndGlyphs">+10.50</text>
<text x="386" y="881" textLength="12.6" lengthAdjust="spacingAndGlyphs">+0.00</text>
<text x="704" y="316.5" textLength="19" lengthAdjust="spacingAndGlyphs">+6.00</text>
</g>
<rect x="700" y="316" width="39.6" height="15" fill="#ecebe9"/>

<!-- titles -->
<g class="t">
<text x="1145" y="989" textLength="229" lengthAdjust="spacingAndGlyphs">1/200 ÖLÇEK</text>
<text x="1080" y="1038" textLength="290" lengthAdjust="spacingAndGlyphs">10.50 KAT PLANI</text>
<text x="808" y="1075" textLength="569" lengthAdjust="spacingAndGlyphs">TOPLAM BRÜT ALAN:963.00 m2</text>
</g>
</svg>
</body></html>
